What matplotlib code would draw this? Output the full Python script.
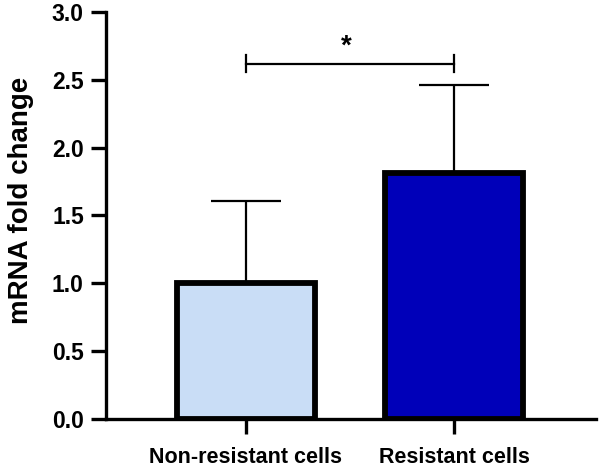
import matplotlib
matplotlib.use("Agg")
import matplotlib.pyplot as plt

plt.rcParams['font.family'] = ['Liberation Sans', 'DejaVu Sans']
plt.rcParams['font.weight'] = 'bold'

categories = ["Non-resistant cells", "Resistant cells"]
means = [1.0, 1.81]
sd_upper = [0.61, 0.65]
colors = ["#C9DDF6", "#0000B9"]
sig_y = 2.62
sig_label = "*"
yticks = [0.0, 0.5, 1.0, 1.5, 2.0, 2.5, 3.0]

fig = plt.figure(figsize=(6.0, 4.69), dpi=100)
ax = fig.add_axes([106/600, 1-419/469, (596-106)/600, (419-12)/469])

x = list(range(len(categories)))
ax.bar(x, means, width=0.663, color=colors, edgecolor='black', linewidth=4.2, zorder=3)
ax.errorbar(x, means, yerr=[[0]*len(means), sd_upper], fmt='none', ecolor='black',
            elinewidth=1.6, capsize=25, capthick=1.6, zorder=2)

# significance bracket
ax.plot([x[0], x[1]], [sig_y, sig_y], color='black', lw=1.6, zorder=4)
for xi in x:
    ax.plot([xi, xi], [sig_y - 0.065, sig_y + 0.065], color='black', lw=1.6, zorder=4)
ax.text((x[0] + x[1]) / 2 - 0.02, sig_y + 0.03, sig_label, ha='center', va='bottom',
        fontsize=20, fontweight='bold')

ax.set_xlim(-0.673, 1.683)
ax.set_ylim(0, 3.0)
ax.set_yticks(yticks)
ax.set_yticklabels([f"{v:.1f}" for v in yticks], fontsize=16.5, fontweight='bold')
ax.set_xticks(x)
ax.set_xticklabels(categories, fontsize=15.5, fontweight='bold')
ax.set_ylabel("mRNA fold change", fontsize=20, fontweight='bold')
ax.yaxis.set_label_coords(-0.147, 0.536)

for s in ['top', 'right']:
    ax.spines[s].set_visible(False)
for s in ['left', 'bottom']:
    ax.spines[s].set_linewidth(2.4)
ax.tick_params(axis='both', length=11, width=2.4, pad=5)
ax.tick_params(axis='x', pad=9)

fig.savefig("out.png", dpi=100)
